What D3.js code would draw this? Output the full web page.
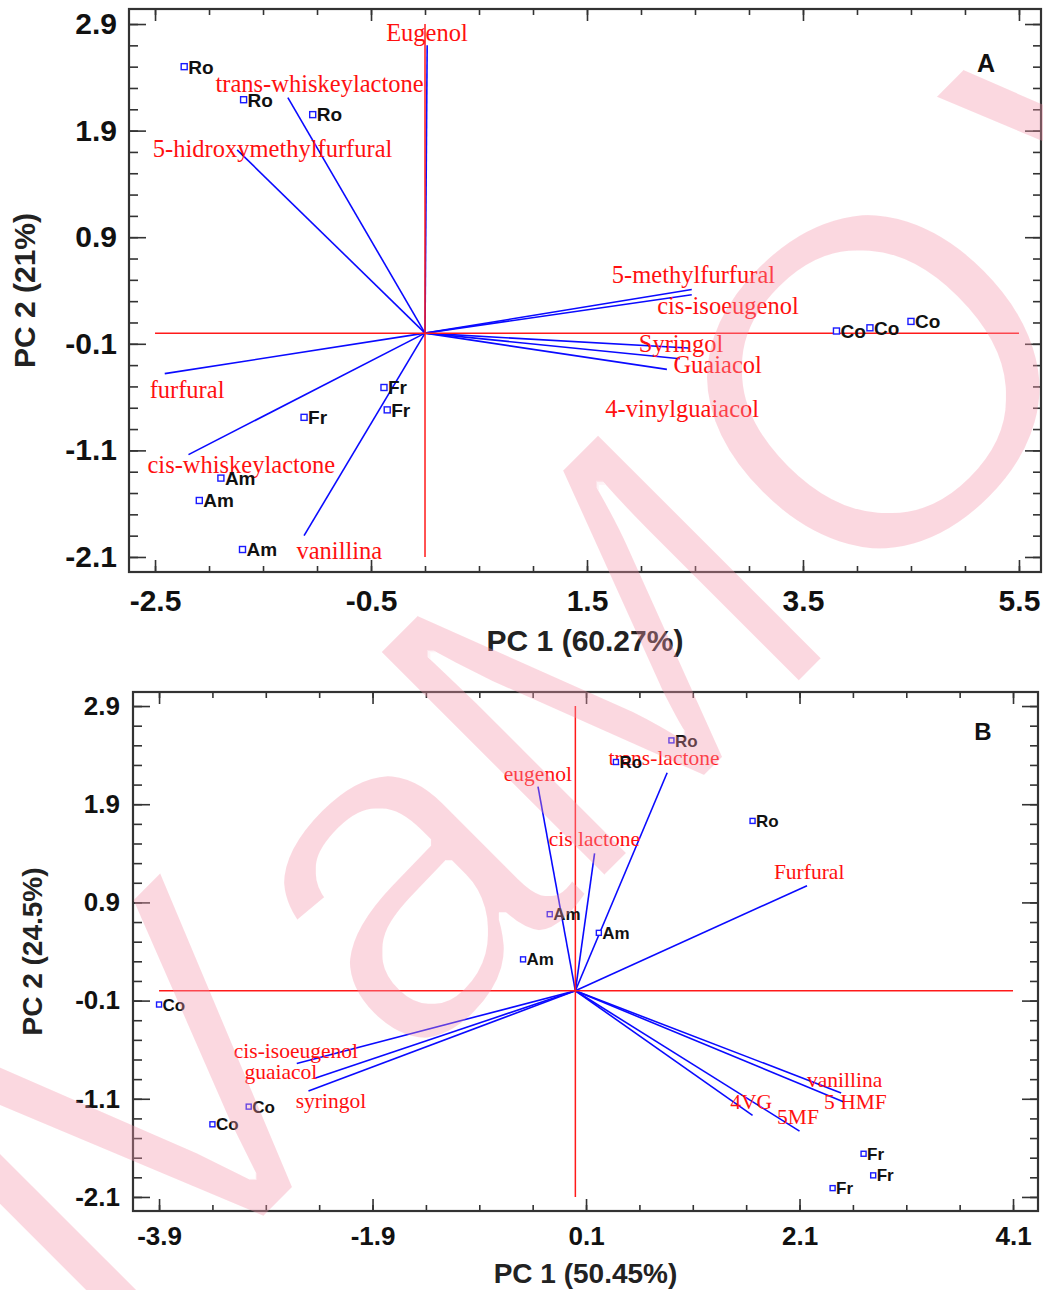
<!DOCTYPE html>
<html>
<head>
<meta charset="utf-8">
<script src="https://cdn.jsdelivr.net/npm/d3@7"></script>
<style>
body { margin: 0; background: #fff; }
svg { display: block; }
</style>
</head>
<body>
<svg id="chart" width="1043" height="1290"></svg>
<script>
// ---- panel A data ----
var aScoreGroup = ["Ro", "Ro", "Ro", "Fr", "Fr", "Fr", "Am", "Am", "Am", "Co", "Co", "Co"];
var aScoreX = [-2.23, -1.68, -1.04, -0.38, -0.35, -1.12, -1.89, -2.09, -1.69, 3.81, 4.12, 4.50];
var aScoreY = [2.50, 2.19, 2.05, -0.51, -0.72, -0.79, -1.36, -1.57, -2.03, 0.02, 0.05, 0.11];

var aVarNames = ["Eugenol", "trans-whiskeylactone", "5-hidroxymethylfurfural", "furfural",
	"cis-whiskeylactone", "vanillina", "5-methylfurfural", "cis-isoeugenol", "Syringol", "Guaiacol", "4-vinylguaiacol"];
var aLoadX = [0.02, -1.27, -1.74, -2.41, -2.19, -1.12, 2.47, 2.47, 2.44, 2.36, 2.24];
var aLoadY = [2.70, 2.21, 1.72, -0.38, -1.14, -1.90, 0.41, 0.36, -0.14, -0.24, -0.34];
// where each variable name sits (start of text, baseline), in PC units
var aLabelX = [-0.36, -1.94, -2.52, -2.55, -2.57, -1.19, 1.73, 2.15, 1.98, 2.30, 1.67];
var aLabelY = [2.74, 2.26, 1.65, -0.61, -1.31, -2.12, 0.47, 0.18, -0.18, -0.37, -0.79];

var aXTicks = [-2.5, -0.5, 1.5, 3.5, 5.5];
var aYTicks = [-2.1, -1.1, -0.1, 0.9, 1.9, 2.9];

// ---- panel B data ----
var bScoreGroup = ["Ro", "Ro", "Ro", "Am", "Am", "Am", "Co", "Co", "Co", "Fr", "Fr", "Fr"];
var bScoreX = [0.90, 0.38, 1.66, -0.24, 0.22, -0.49, -3.90, -3.06, -3.40, 2.70, 2.79, 2.41];
var bScoreY = [2.55, 2.33, 1.73, 0.78, 0.59, 0.32, -0.14, -1.18, -1.36, -1.66, -1.88, -2.01];

var bVarNames = ["eugenol", "cis lactone", "trans-lactone", "Furfural", "cis-isoeugenol",
	"guaiacol", "syringol", "4VG", "5MF", "vanillina", "5 HMF"];
var bLoadX = [-0.35, 0.18, 0.86, 2.17, -2.61, -2.44, -2.50, 1.66, 2.10, 2.49, 2.51];
var bLoadY = [2.08, 1.40, 2.22, 1.07, -0.74, -0.89, -1.02, -1.27, -1.43, -1.04, -1.13];
var bLabelX = [-0.67, -0.25, 0.31, 1.86, -3.20, -3.10, -2.62, 1.45, 1.89, 2.17, 2.33];
var bLabelY = [2.14, 1.47, 2.30, 1.14, -0.68, -0.90, -1.19, -1.20, -1.36, -0.98, -1.20];

var bXTicks = [-3.9, -1.9, 0.1, 2.1, 4.1];
var bYTicks = [-2.1, -1.1, -0.1, 0.9, 1.9, 2.9];

var sansBold = "'Liberation Sans', Arial, sans-serif";
var serif = "'Liberation Serif', 'Times New Roman', serif";

var svg = d3.select("#chart");
svg.append("rect").attr("width", 1043).attr("height", 1290).attr("fill", "#fff");

var fmt = function(d) { return d.toFixed(1); };

var drawPanel = function(c) {
	var x = d3.scaleLinear().domain(c.xDomain).range([c.left, c.right]);
	var y = d3.scaleLinear().domain(c.yDomain).range([c.bottom, c.top]);
	var g = svg.append("g");

	// loading vectors
	g.selectAll("line.vec")
		.data(c.loadX)
		.enter().append("line")
		.attr("class", "vec")
		.attr("x1", x(0)).attr("y1", y(0))
		.attr("x2", d => x(d))
		.attr("y2", (d, i) => y(c.loadY[i]))
		.attr("stroke", "#0a0aff")
		.attr("stroke-width", 1.6);

	// red reference axes through the origin
	var xt = c.xTicks, yt = c.yTicks;
	g.append("line")
		.attr("x1", x(xt[0])).attr("x2", x(xt[xt.length - 1]))
		.attr("y1", y(0)).attr("y2", y(0))
		.attr("stroke", "#ff1a1a").attr("stroke-width", 1.5);
	g.append("line")
		.attr("x1", x(0)).attr("x2", x(0))
		.attr("y1", y(yt[0])).attr("y2", y(yt[yt.length - 1]))
		.attr("stroke", "#ff1a1a").attr("stroke-width", 1.5);

	// variable names
	g.selectAll("text.var")
		.data(c.varNames)
		.enter().append("text")
		.attr("class", "var")
		.attr("x", (d, i) => x(c.labelX[i]))
		.attr("y", (d, i) => y(c.labelY[i]))
		.attr("font-family", serif)
		.attr("font-size", c.varFont)
		.attr("fill", "#ff1010")
		.text(d => d);

	// sample scores
	var m = c.marker;
	g.selectAll("rect.pt")
		.data(c.scoreX)
		.enter().append("rect")
		.attr("class", "pt")
		.attr("x", d => x(d) - m / 2)
		.attr("y", (d, i) => y(c.scoreY[i]) - m / 2)
		.attr("width", m).attr("height", m)
		.attr("fill", "#fff")
		.attr("stroke", "#1a1aff")
		.attr("stroke-width", 1.4);
	g.selectAll("text.pt")
		.data(c.scoreGroup)
		.enter().append("text")
		.attr("class", "pt")
		.attr("x", (d, i) => x(c.scoreX[i]) + m / 2 + 1)
		.attr("y", (d, i) => y(c.scoreY[i]) + c.pointFont * 0.36)
		.attr("font-family", sansBold)
		.attr("font-weight", "bold")
		.attr("font-size", c.pointFont)
		.attr("fill", "#111")
		.text(d => d);

	// axes: ticks point inward, labels only on left and bottom
	var styleAxis = function(sel) {
		sel.select(".domain").remove();
		sel.selectAll("line").attr("stroke", "#333").attr("stroke-width", 1.6);
		sel.selectAll("text")
			.attr("font-family", sansBold)
			.attr("font-weight", "bold")
			.attr("font-size", c.tickFont)
			.attr("fill", "#111");
	};
	var xMinor = d3.range(xt[0], xt[xt.length - 1] + 0.01, 0.5);
	var yMinor = d3.range(yt[0], yt[yt.length - 1] + 0.01, 0.2);

	g.append("g").attr("transform", "translate(0," + c.bottom + ")")
		.call(d3.axisBottom(x).tickValues(xMinor).tickFormat("").tickSize(-6)).call(styleAxis);
	g.append("g").attr("transform", "translate(0," + c.bottom + ")")
		.call(d3.axisBottom(x).tickValues(xt).tickFormat(fmt).tickSizeInner(-12).tickSizeOuter(0).tickPadding(c.xPad))
		.call(styleAxis);
	g.append("g").attr("transform", "translate(0," + c.top + ")")
		.call(d3.axisTop(x).tickValues(xMinor).tickFormat("").tickSize(-6)).call(styleAxis);
	g.append("g").attr("transform", "translate(0," + c.top + ")")
		.call(d3.axisTop(x).tickValues(xt).tickFormat("").tickSize(-12)).call(styleAxis);

	g.append("g").attr("transform", "translate(" + c.left + ",0)")
		.call(d3.axisLeft(y).tickValues(yMinor).tickFormat("").tickSize(-9)).call(styleAxis);
	g.append("g").attr("transform", "translate(" + c.left + ",0)")
		.call(d3.axisLeft(y).tickValues(yt).tickFormat(fmt).tickSizeInner(-17).tickSizeOuter(0).tickPadding(c.yPad))
		.call(styleAxis);
	g.append("g").attr("transform", "translate(" + c.right + ",0)")
		.call(d3.axisRight(y).tickValues(yMinor).tickFormat("").tickSize(-8)).call(styleAxis);
	g.append("g").attr("transform", "translate(" + c.right + ",0)")
		.call(d3.axisRight(y).tickValues(yt).tickFormat("").tickSize(-16)).call(styleAxis);

	g.append("rect")
		.attr("x", c.left).attr("y", c.top)
		.attr("width", c.right - c.left).attr("height", c.bottom - c.top)
		.attr("fill", "none").attr("stroke", "#333").attr("stroke-width", 2.2);

	// titles
	g.append("text")
		.attr("x", (c.left + c.right) / 2).attr("y", c.xTitleY)
		.attr("text-anchor", "middle")
		.attr("font-family", sansBold).attr("font-weight", "bold")
		.attr("font-size", c.titleFont).attr("fill", "#222")
		.text(c.xTitle);
	g.append("text")
		.attr("transform", "translate(" + c.yTitleX + "," + (c.top + c.bottom) / 2 + ") rotate(-90)")
		.attr("text-anchor", "middle")
		.attr("font-family", sansBold).attr("font-weight", "bold")
		.attr("font-size", c.titleFont).attr("fill", "#222")
		.text(c.yTitle);
	g.append("text")
		.attr("x", c.tagX).attr("y", c.tagY)
		.attr("text-anchor", "middle")
		.attr("font-family", sansBold).attr("font-weight", "bold")
		.attr("font-size", c.tagFont).attr("fill", "#111")
		.text(c.tag);
};

drawPanel({
	left: 129, right: 1041, top: 9, bottom: 572,
	xDomain: [-2.741, 5.704], yDomain: [-2.241, 3.041],
	xTicks: aXTicks, yTicks: aYTicks,
	scoreX: aScoreX, scoreY: aScoreY, scoreGroup: aScoreGroup,
	loadX: aLoadX, loadY: aLoadY, varNames: aVarNames, labelX: aLabelX, labelY: aLabelY,
	tickFont: 30, xPad: 17.5, yPad: 12,
	varFont: 24.5, pointFont: 19, marker: 6,
	titleFont: 30, xTitle: "PC 1 (60.27%)", xTitleY: 651, yTitle: "PC 2 (21%)", yTitleX: 35,
	tag: "A", tagX: 986, tagY: 72, tagFont: 25
});

drawPanel({
	left: 133, right: 1038, top: 692, bottom: 1211,
	xDomain: [-4.144, 4.334], yDomain: [-2.243, 3.043],
	xTicks: bXTicks, yTicks: bYTicks,
	scoreX: bScoreX, scoreY: bScoreY, scoreGroup: bScoreGroup,
	loadX: bLoadX, loadY: bLoadY, varNames: bVarNames, labelX: bLabelX, labelY: bLabelY,
	tickFont: 26, xPad: 15.5, yPad: 13,
	varFont: 21.5, pointFont: 17, marker: 5,
	titleFont: 28, xTitle: "PC 1 (50.45%)", xTitleY: 1283, yTitle: "PC 2 (24.5%)", yTitleX: 42,
	tag: "B", tagX: 983, tagY: 740, tagFont: 24
});

// pink watermark lettering laid over the whole figure
svg.append("defs").append("filter").attr("id", "thin")
	.attr("filterUnits", "userSpaceOnUse")
	.attr("x", 0).attr("y", 0).attr("width", 1043).attr("height", 1290)
	.append("feMorphology").attr("operator", "erode").attr("radius", 3);

var wm = svg.append("g").attr("opacity", 0.36).attr("filter", "url(#thin)");
var wmLine = wm.append("g").attr("transform", "translate(167,1318) rotate(-45)");
[["I", -85], ["V", 4], ["a", 338], ["M", 580], ["O", 979], ["V", 1400]].forEach(function(l) {
	wmLine.append("text")
		.attr("x", l[1]).attr("y", 0)
		.attr("font-family", "'Liberation Sans', Arial, sans-serif")
		.attr("font-size", 470)
		.attr("fill", "rgb(245,150,172)")
		.text(l[0]);
});
</script>
</body>
</html>
